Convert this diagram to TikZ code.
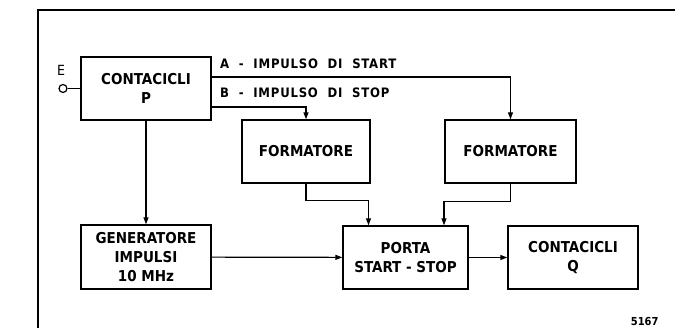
\documentclass[tikz,border=0pt]{standalone}
\usepackage{fontspec}
\setmainfont{DejaVu Sans Condensed}
\usetikzlibrary{arrows.meta}
\def\blockw{130pt}
\def\blockh{63pt}

\begin{document}
\begin{tikzpicture}[x=1pt, y=-1pt,
		block/.style={draw, line width=1.4pt, minimum width=\blockw, minimum height=\blockh,
			align=center, inner sep=0pt, font=\fontsize{15}{19}\selectfont\bfseries},
		wire/.style={line width=1.2pt},
		sig/.style={wire, -{Triangle[length=7pt,width=5pt]}},
		lbl/.style={inner sep=0pt, anchor=west,
			font=\fontsize{13}{15}\selectfont\bfseries\addfontfeatures{LetterSpace=6}}]
	\useasboundingbox (0,0) rectangle (675,328);
	% frame
	\draw[line width=1.3pt] (675,10) -| (38,328);
	% blocks
	\node[block] (cP) at (146,88.5) {CONTACICLI\\P};
	\node[block, minimum width=128pt] (form1) at (306,151.5) {FORMATORE};
	\node[block, minimum width=131pt] (form2) at (510.5,151.5) {FORMATORE};
	\node[block, minimum height=64pt] (gen) at (146,257) {GENERATORE\\IMPULSI\\10 MHz};
	\node[block, minimum width=125pt] (porta) at (405.5,257.5) {PORTA\\START - STOP};
	\node[block] (cQ) at (573,257.5) {CONTACICLI\\Q};
	% input E
	\node[draw, wire, circle, inner sep=0pt, minimum size=8pt] (E) at (63,88.5) {};
	\node[font=\fontsize{14}{16}\selectfont] (lblE) at (61,70) {E};
	\draw[wire] (E) -- (cP);
	% start / stop pulses
	\draw[sig] ([yshift=11.5pt]cP.east) -| (form2.north);
	\draw[sig] ([yshift=-18.5pt]cP.east) -| (form1.north);
	\node[lbl] (lblA) at (220,64) {A\ \ -\ \ IMPULSO\ \ DI\ \ START};
	\node[lbl] (lblB) at (220,92.5) {B\ \ -\ \ IMPULSO\ \ DI\ \ STOP};
	\draw[sig] (cP) -- (gen);
	\draw[sig] (gen) -- (porta);
	\draw[sig] (porta) -- (cQ);
	\coordinate (inA) at ([xshift=-37pt]porta.north);
	\coordinate (inB) at ([xshift=38.5pt]porta.north);
	\draw[sig] (form1.south) -- ++(0,17) -| (inA);
	\draw[sig] (form2.south) -- ++(0,18) -| (inB);
	\node[anchor=east, font=\fontsize{11}{13}\selectfont\bfseries] (fig) at (662,322) {5167};
\end{tikzpicture}
\end{document}
